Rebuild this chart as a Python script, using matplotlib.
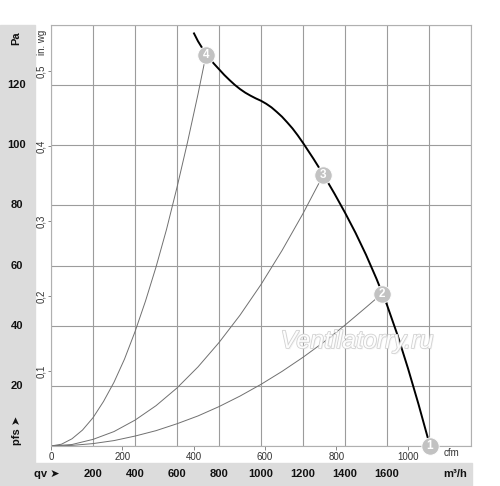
import matplotlib
matplotlib.use('Agg')
import matplotlib.pyplot as plt
import matplotlib.transforms as mtransforms
import matplotlib.patheffects as pe
from matplotlib.patches import Rectangle

plt.rcParams['font.family'] = ['Liberation Sans', 'DejaVu Sans']

# fan curve (m3/h, Pa)
fan_q = [681, 700, 738, 775, 800, 825, 850, 875, 900, 925, 950, 975, 1000, 1025,
         1050, 1075, 1100, 1125, 1150, 1175, 1200, 1250, 1300, 1350, 1400, 1450,
         1500, 1550, 1600, 1650, 1700, 1750, 1805]
fan_p = [137.2, 134.6, 130.3, 127.2, 125.3, 123.4, 121.7, 120.1, 118.7, 117.5, 116.5,
         115.6, 114.8, 113.8, 112.6, 111.1, 109.5, 107.6, 105.6, 103.3, 100.8, 95.5,
         89.9, 83.9, 77.6, 70.9, 63.6, 55.6, 46.9, 36.9, 25.8, 13.9, 0]

# system curves
sys4_q = [0, 50, 100, 150, 200, 250, 300, 350, 400, 450, 500, 550, 600, 650, 700, 738]
sys4_p = [0, 0.6, 2.4, 5.3, 9.4, 14.8, 21.2, 28.9, 38, 48.2, 59.5, 72, 86, 101, 117, 130]
sys3_q = [0, 100, 200, 300, 400, 500, 600, 700, 800, 900, 1000, 1100, 1200, 1297]
sys3_p = [0, 0.5, 2.2, 4.8, 8.6, 13.4, 19.3, 26.3, 34.4, 43.5, 53.7, 65, 77.3, 90.2]
sys2_q = [0, 100, 200, 300, 400, 500, 600, 700, 800, 900, 1000, 1100, 1200, 1300,
          1400, 1500, 1575]
sys2_p = [0, 0.2, 0.8, 1.8, 3.3, 5.1, 7.4, 10, 13.1, 16.6, 20.5, 24.8, 29.5, 34.6,
          40.2, 46.1, 50.6]

# operating points
op_q = [1805, 1575, 1297, 738]
op_p = [0, 50.6, 90.2, 130]
op_labels = ['1', '2', '3', '4']

pa_ticks = [20, 40, 60, 80, 100, 120]
qv_ticks = [200, 400, 600, 800, 1000, 1200, 1400, 1600]
cfm_ticks = [0, 200, 400, 600, 800, 1000]
inwg_ticks = [0.1, 0.2, 0.3, 0.4, 0.5]
inwg_labels = ['0,1', '0,2', '0,3', '0,4', '0,5']

W, H = 500, 486


def fx(x):
    return x / W


def fy(y):
    return (H - y) / H


fig = plt.figure(figsize=(5, 4.86), dpi=100)
fig.patches.append(Rectangle((0, 0), fx(35), fy(25), transform=fig.transFigure,
                             color='#dcdcdc', zorder=-1))
fig.patches.append(Rectangle((0, 0), fx(472), 23 / H, transform=fig.transFigure,
                             color='#dcdcdc', zorder=-1))

ax = fig.add_axes([fx(51), fy(446), 420 / W, 421 / H])
ax.set_xlim(0, 2000)
ax.set_ylim(0, 140)
ax.set_xticks(range(0, 2001, 200))
ax.set_yticks(range(0, 141, 20))
ax.grid(True, color='#9c9c9c', lw=0.8)
ax.tick_params(length=0, labelbottom=False, labelleft=False)
for s in ax.spines.values():
    s.set_color('#b0b0b0')
    s.set_linewidth(0.8)

ax.plot(sys4_q, sys4_p, color='#707070', lw=0.7, zorder=2)
ax.plot(sys3_q, sys3_p, color='#707070', lw=0.7, zorder=2)
ax.plot(sys2_q, sys2_p, color='#707070', lw=0.7, zorder=2)
ax.plot(fan_q, fan_p, color='black', lw=1.4, zorder=3)

for q, p, lab in zip(op_q, op_p, op_labels):
    ax.plot(q, p, 'o', ms=12.5, mfc='#c2c2c2', mec='white', mew=0.6,
            clip_on=False, zorder=4)
    ax.text(q, p, lab, color='white', fontsize=8.5, fontweight='bold',
            ha='center', va='center', zorder=5, clip_on=False)

# cfm axis
sec = ax.secondary_xaxis('bottom', functions=(lambda q: q / 1.699, lambda c: c * 1.699))
sec.set_xticks(cfm_ticks)
sec.tick_params(length=3, width=0.7, color='#888888', labelsize=7, pad=1,
                labelcolor='#333333')
sec.spines['bottom'].set_visible(False)

# in. wg axis
secy = ax.secondary_yaxis('left', functions=(lambda p: p / 249.09, lambda w: w * 249.09))
secy.set_yticks(inwg_ticks)
secy.set_yticklabels(inwg_labels)
secy.tick_params(length=2.5, width=0.7, color='#888888', labelsize=7, pad=1.0,
                 labelrotation=90, labelcolor='#333333')
for t in secy.get_yticklabels():
    t.set_va('center')
secy.spines['left'].set_visible(False)

# Pa labels in the left band
tr_y = mtransforms.blended_transform_factory(fig.transFigure, ax.transData)
for v in pa_ticks:
    ax.text(fx(17), v, str(v), transform=tr_y, ha='center', va='center',
            fontsize=8, fontweight='bold', color='#111111', clip_on=False)

# m3/h labels in the bottom band
tr_x = mtransforms.blended_transform_factory(ax.transData, fig.transFigure)
for v in qv_ticks:
    ax.text(v, fy(474), str(v), transform=tr_x, ha='center', va='center',
            fontsize=8, fontweight='bold', color='#111111', clip_on=False)

fig.text(fx(16), fy(38), 'Pa', rotation=90, ha='center', va='center',
         fontsize=8, fontweight='bold', color='#111111')
fig.text(fx(42), fy(42), 'in. wg', rotation=90, ha='center', va='center',
         fontsize=7, color='#333333')
fig.text(fx(452), fy(453), 'cfm', ha='center', va='center', fontsize=7, color='#333333')
fig.text(fx(455), fy(474), 'm³/h', ha='center', va='center', fontsize=8,
         fontweight='bold', color='#111111')
fig.text(fx(17), fy(430), 'pfs ➤', rotation=90, ha='center', va='center',
         fontsize=8, fontweight='bold', color='#111111')
fig.text(fx(47), fy(474), 'qv ➤', ha='center', va='center',
         fontsize=8, fontweight='bold', color='#111111')

fig.text(fx(357), fy(341), 'Ventilatorry.ru', ha='center', va='center',
         fontsize=18, style='italic', color='white', alpha=0.95, zorder=6,
         path_effects=[pe.withSimplePatchShadow(offset=(1, -1), shadow_rgbFace='#dddddd'),
                       pe.Stroke(linewidth=1.2, foreground='#cfcfcf'), pe.Normal()])

fig.savefig('out.png', dpi=100)
